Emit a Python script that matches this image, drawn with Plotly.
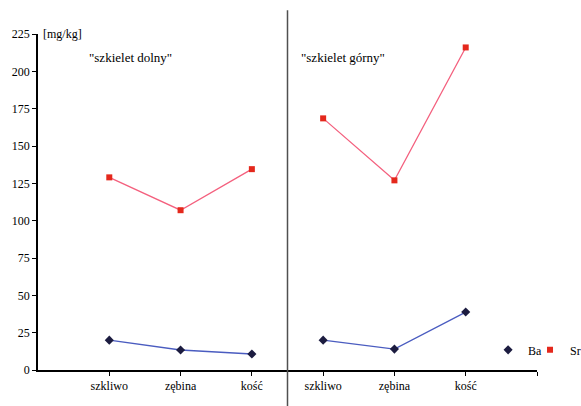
import plotly.graph_objects as go

categories = ["szkliwo", "zębina", "kość", "szkliwo", "zębina", "kość"]
positions = [1, 2, 3, 4, 5, 6]
ba_values = [20, 13.4, 10.7, 20, 14, 38.8]
sr_values = [129, 107, 134.5, 168.5, 127, 216]
y_ticks = [0, 25, 50, 75, 100, 125, 150, 175, 200, 225]

FONT = "'Liberation Serif', 'DejaVu Serif', serif"
TICKFONT = "Liberation Serif"

def split(vals):
    # left group / gap / right group
    return positions[:3] + [None] + positions[3:], vals[:3] + [None] + vals[3:]

fig = go.Figure()
bx, by = split(ba_values)
sx, sy = split(sr_values)

fig.add_trace(go.Scatter(x=bx, y=by, mode="lines", line=dict(color="#4a5cc0", width=1.3),
                         showlegend=False, hoverinfo="skip", cliponaxis=False))
fig.add_trace(go.Scatter(x=bx, y=by, mode="markers", name="Ba", legend="legend",
                         marker=dict(symbol="diamond", size=7, color="#1c1c40"), cliponaxis=False))
fig.add_trace(go.Scatter(x=sx, y=sy, mode="lines", line=dict(color="#f4607e", width=1.3),
                         showlegend=False, hoverinfo="skip", cliponaxis=False))
fig.add_trace(go.Scatter(x=sx, y=sy, mode="markers", name="Sr", legend="legend2",
                         marker=dict(symbol="square", size=6, color="#e4281c"), cliponaxis=False))

fig.add_shape(type="line", xref="paper", yref="paper", x0=3.5 / 7, x1=3.5 / 7, y0=-0.107, y1=1.071,
              line=dict(color="#505050", width=1.5))

fig.add_annotation(x=0, y=225, xref="x", yref="y", text="[mg/kg]", showarrow=False,
                   xanchor="left", yanchor="middle", xshift=3, font=dict(family=FONT, size=12, color="black"))
fig.add_annotation(x=0.69, y=209.5, xref="x", yref="y", text='"szkielet dolny"', showarrow=False,
                   xanchor="left", yanchor="middle", font=dict(family=FONT, size=13, color="black"))
fig.add_annotation(x=3.665, y=209.5, xref="x", yref="y", text='"szkielet górny"', showarrow=False,
                   xanchor="left", yanchor="middle", font=dict(family=FONT, size=13, color="black"))

legend_common = dict(orientation="h", y=0.06, xanchor="left", yanchor="middle",
                     font=dict(family=FONT, size=12), itemwidth=30,
                     bgcolor="rgba(0,0,0,0)")

fig.update_layout(
    width=581, height=406,
    margin=dict(l=38, r=44, t=34, b=36, autoexpand=False),
    paper_bgcolor="white", plot_bgcolor="white",
    font=dict(family=FONT, size=12, color="black"),
    showlegend=True,
    legend=dict(x=0.902, **legend_common),
    legend2=dict(x=0.986, **legend_common),
    xaxis=dict(range=[0, 7], tickvals=positions + [7], ticktext=categories + [""],
               showgrid=False, zeroline=False, showline=True, linecolor="black", linewidth=1.5,
               ticks="outside", ticklen=4, tickcolor="black",
               tickfont=dict(family=TICKFONT, size=12, color="black")),
    yaxis=dict(range=[0, 225], tickvals=y_ticks, showgrid=False, zeroline=False,
               showline=True, linecolor="black", linewidth=1.5,
               ticks="outside", ticklen=4, tickcolor="black",
               tickfont=dict(family=TICKFONT, size=12, color="black")),
)

fig.write_html("out.html", config={"displayModeBar": False},
               post_script="document.body.style.margin='0';")
